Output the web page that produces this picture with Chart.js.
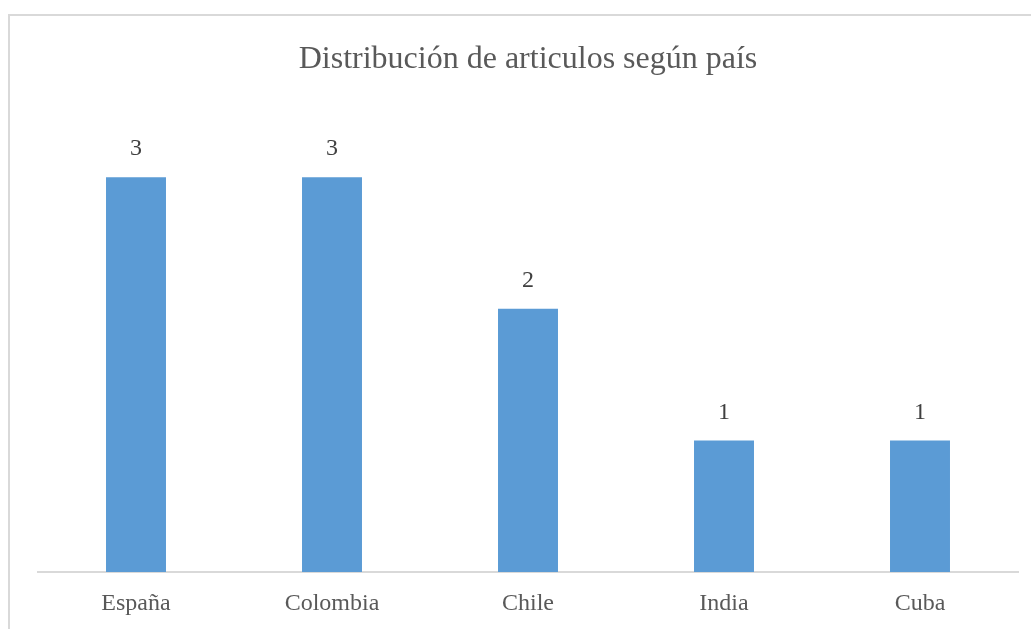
<!DOCTYPE html>
<html lang="es">
<head>
  <meta charset="UTF-8">
  <title>Distribución de articulos según país</title>
  <script src="https://cdn.jsdelivr.net/npm/chart.js"></script>
  <style>
    body { margin: 0; background: #fff; overflow: hidden; }
    .frame { position: absolute; left: 8px; top: 14px; width: 1100px; height: 700px;
             border-left: 2px solid #d9d9d9; border-top: 2px solid #d9d9d9; }
    .wrap { position: absolute; left: 0; top: 0; width: 1031px; height: 629px; }
  </style>
</head>
<body>
  <div class="frame"></div>
  <div class="wrap"><canvas id="chartPaises"></canvas></div>

  <script>
    const paises = ['España', 'Colombia', 'Chile', 'India', 'Cuba'];
    const articulos = [3, 3, 2, 1, 1];

    // etiquetas de valor encima de cada barra
    const etiquetas = {
      id: 'etiquetas',
      afterDatasetsDraw(chart) {
        const ctx = chart.ctx;
        ctx.save();
        ctx.font = '24px "Liberation Serif", "Times New Roman", serif';
        ctx.fillStyle = '#404040';
        ctx.textAlign = 'center';
        ctx.textBaseline = 'middle';
        chart.getDatasetMeta(0).data.forEach((bar, i) => {
          ctx.fillText(articulos[i], bar.x, bar.y - 28);
        });
        ctx.restore();
      }
    };

    new Chart(document.getElementById('chartPaises'), {
      type: 'bar',
      data: {
        labels: paises,
        datasets: [{
          data: articulos,
          backgroundColor: '#5b9bd5',
          barPercentage: 0.306,
          categoryPercentage: 1
        }]
      },
      options: {
        responsive: true,
        maintainAspectRatio: false,
        animation: false,
        layout: { padding: { left: 38, right: 13, top: 0, bottom: 11 } },
        plugins: {
          legend: { display: false },
          tooltip: { enabled: false },
          title: {
            display: true,
            text: 'Distribución de articulos según país',
            color: '#595959',
            font: { family: '"Liberation Serif", "Times New Roman", serif', size: 32, weight: 'normal' },
            padding: { top: 40, bottom: 33 }
          }
        },
        scales: {
          x: {
            grid: { display: false, drawTicks: false },
            border: { display: true, color: '#d9d9d9', width: 2 },
            ticks: {
              color: '#595959',
              padding: 17,
              font: { family: '"Liberation Serif", "Times New Roman", serif', size: 24 }
            },
            afterFit(scale) { scale.height = 46; }
          },
          y: { display: false, min: 0, max: 3.5 }
        }
      },
      plugins: [etiquetas]
    });
  </script>
</body>
</html>
